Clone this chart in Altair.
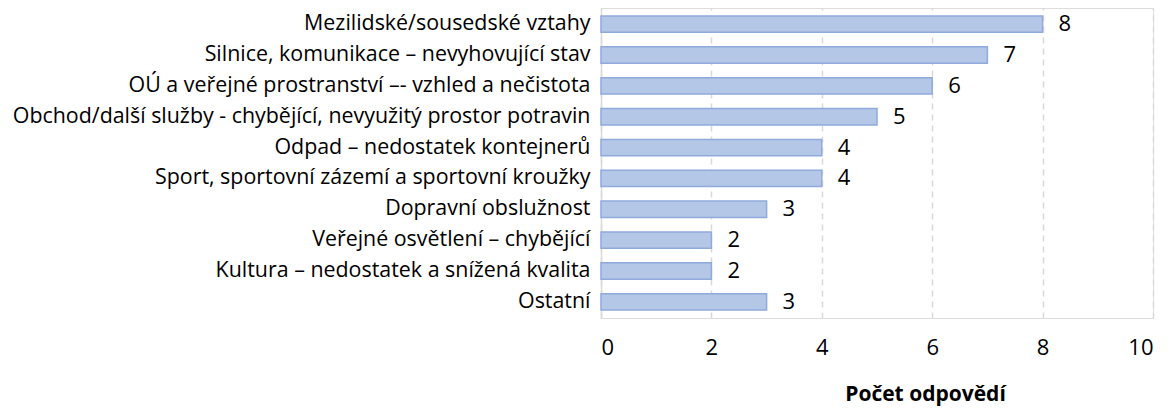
import altair as alt
import pandas as pd

categories = [
    "Mezilidské/sousedské vztahy",
    "Silnice, komunikace – nevyhovující stav",
    "OÚ a veřejné prostranství –- vzhled a nečistota",
    "Obchod/další služby - chybějící, nevyužitý prostor potravin",
    "Odpad – nedostatek kontejnerů",
    "Sport, sportovní zázemí a sportovní kroužky",
    "Dopravní obslužnost ",
    "Veřejné osvětlení – chybějící",
    "Kultura – nedostatek a snížená kvalita",
    "Ostatní",
]
values = [8, 7, 6, 5, 4, 4, 3, 2, 2, 3]
x_ticks = [0, 2, 4, 6, 8, 10]

df = pd.DataFrame({"kategorie": categories, "pocet": values})

FONT = "Open Sans"

y_enc = alt.Y(
    "kategorie:N",
    sort=categories,
    title=None,
    scale=alt.Scale(paddingInner=0.47, paddingOuter=0.26),
    axis=alt.Axis(
        ticks=False,
        domain=True,
        domainColor="#d9d9d9",
        domainWidth=1.5,
        labelFontSize=21.4,
        labelFont=FONT,
        labelColor="#000000",
        labelPadding=11,
        labelLimit=900,
        grid=False,
    ),
)
x_enc = alt.X(
    "pocet:Q",
    title="Počet odpovědí",
    scale=alt.Scale(domain=[0, 10], nice=False),
    axis=alt.Axis(
        values=x_ticks,
        ticks=False,
        domain=False,
        grid=True,
        gridDash=[6, 5],
        gridColor="#d9d9d9",
        gridWidth=1.5,
        labelFontSize=22,
        labelFont=FONT,
        labelColor="#000000",
        labelPadding=19,
        titleFont=FONT,
        titleFontSize=21,
        titleFontWeight="bold",
        titleColor="#000000",
        titlePadding=25,
        titleX=324,
    ),
)

bars = alt.Chart(df).mark_bar(
    color="#b4c7e7", stroke="#8faadc", strokeWidth=1.5
).encode(x=x_enc, y=y_enc)

text = alt.Chart(df).mark_text(
    align="left", baseline="middle", dx=16, font=FONT, fontSize=22, color="#000000"
).encode(x="pocet:Q", y=alt.Y("kategorie:N", sort=categories), text="pocet:Q")

chart = (
    (bars + text)
    .properties(
        width=552,
        height=310,
        autosize=alt.AutoSizeParams(type="none"),
        padding={"left": 593, "top": 0, "right": 8, "bottom": 90},
    )
    .configure_view(stroke=None)
    .configure(background="#ffffff")
)

chart.save("out.html", embed_options={"renderer": "svg", "actions": False})
